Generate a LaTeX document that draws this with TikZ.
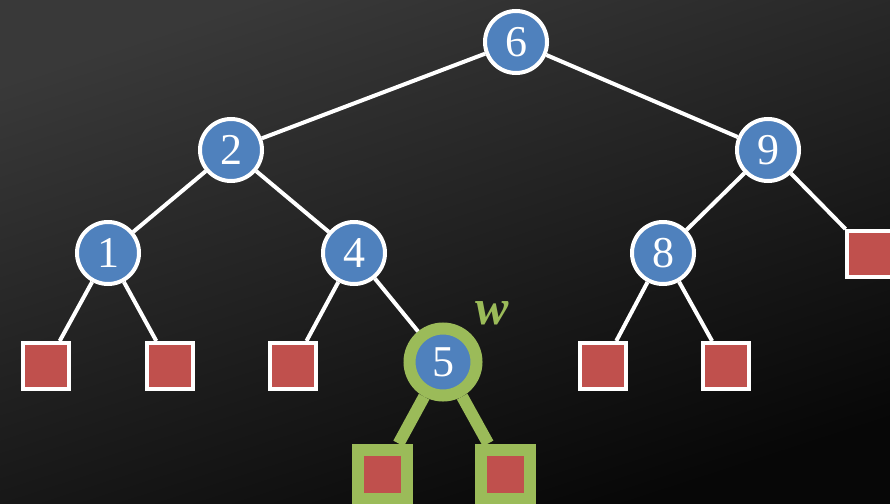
\documentclass[tikz,border=0pt]{standalone}
\usepackage{fontspec}
\setmainfont{Liberation Serif}
\usepackage{xcolor}
\definecolor{keyblue}{HTML}{4F81BD}
\definecolor{leafred}{HTML}{C0504D}
\definecolor{wgreen}{HTML}{9BBB59}
\definecolor{bglight}{HTML}{393939}
\definecolor{bgmid}{HTML}{1B1B1B}
\definecolor{bgdark}{HTML}{070707}

\begin{document}
\begin{tikzpicture}[x=1pt,y=-1pt,
    key/.style={circle,fill=keyblue,draw=white,line width=4pt,minimum size=62pt,
      inner sep=0pt,text=white,font=\fontsize{44}{44}\selectfont},
    leaf/.style={rectangle,fill=leafred,draw=white,line width=4pt,minimum size=46pt,inner sep=0pt},
    wkey/.style={key,draw=wgreen,line width=12pt,minimum size=67pt},
    wleaf/.style={leaf,draw=wgreen,line width=12pt,minimum size=49pt},
    edge/.style={white,line width=4pt},
    wedge/.style={wgreen,line width=12pt}]
  % background
  \shade[top color=bglight, middle color=bgmid, bottom color=bgdark, shading angle=18]
    (0,0) rectangle (890,503);
  \useasboundingbox (0,0) rectangle (890,503);

  % keys
  \node[key] (n6) at (516,42) {6};
  \node[key] (n2) at (231,150) {2};
  \node[key] (n9) at (768,150) {9};
  \node[key] (n1) at (108,253) {1};
  \node[key] (n4) at (354,253) {4};
  \node[key] (n8) at (663,253) {8};
  \node[wkey] (n5) at (443,362) {5};
  \node[text=wgreen,font=\fontsize{50}{50}\selectfont\bfseries\itshape] (wlabel) at (492,313) {w};

  % leaves
  \node[leaf] (l9) at (870,254) {};
  \node[leaf] (l1a) at (46,366) {};
  \node[leaf] (l1b) at (170,366) {};
  \node[leaf] (l4) at (293,366) {};
  \node[leaf] (l8a) at (603,366) {};
  \node[leaf] (l8b) at (726,366) {};
  \node[wleaf] (l5a) at (382,474) {};
  \node[wleaf] (l5b) at (505,474) {};

  % edges
  \draw[edge] (n6) -- (n2);
  \draw[edge] (n6) -- (n9);
  \draw[edge] (n2) -- (n1);
  \draw[edge] (n2) -- (n4);
  \draw[edge] (n9) -- (n8);
  \draw[edge] (n9) -- (l9);
  \draw[edge] (n1) -- (l1a);
  \draw[edge] (n1) -- (l1b);
  \draw[edge] (n4) -- (l4);
  \draw[edge] (n4) -- (n5);
  \draw[edge] (n8) -- (l8a);
  \draw[edge] (n8) -- (l8b);
  \draw[wedge] (n5) -- (l5a);
  \draw[wedge] (n5) -- (l5b);
\end{tikzpicture}
\end{document}
